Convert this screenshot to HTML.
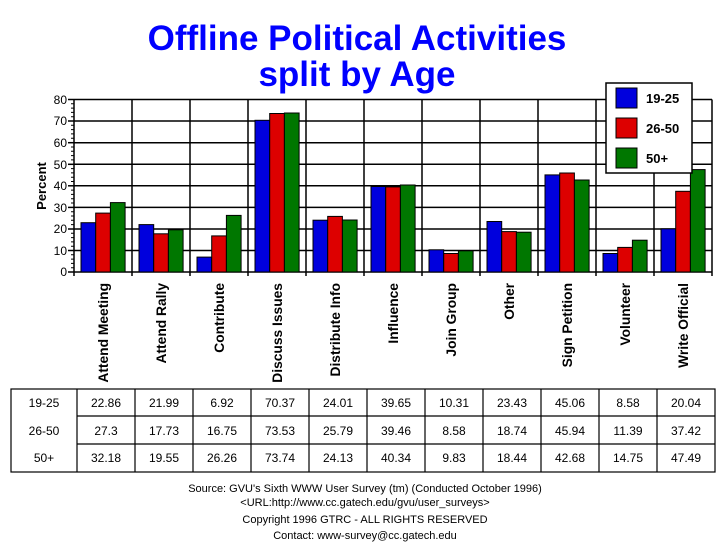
<!DOCTYPE html>
<html><head><meta charset="utf-8"><style>body{margin:0;background:#fff}svg{display:block}</style></head><body>
<svg width="728" height="552" xmlns="http://www.w3.org/2000/svg" font-family="Liberation Sans, sans-serif">
<text x="357" y="50" text-anchor="middle" font-size="35" font-weight="bold" fill="#0000ff">Offline Political Activities</text>
<text x="357" y="86" text-anchor="middle" font-size="35" font-weight="bold" fill="#0000ff">split by Age</text>
<g stroke="#000" stroke-width="1.5">
<line x1="74" y1="99.5" x2="712" y2="99.5"/><line x1="74" y1="121" x2="712" y2="121"/><line x1="74" y1="142.7" x2="712" y2="142.7"/><line x1="74" y1="164.3" x2="712" y2="164.3"/><line x1="74" y1="185.8" x2="712" y2="185.8"/><line x1="74" y1="207.4" x2="712" y2="207.4"/><line x1="74" y1="229" x2="712" y2="229"/><line x1="74" y1="250.5" x2="712" y2="250.5"/>
<line x1="132" y1="99.5" x2="132" y2="276"/><line x1="190" y1="99.5" x2="190" y2="276"/><line x1="248" y1="99.5" x2="248" y2="276"/><line x1="306" y1="99.5" x2="306" y2="276"/><line x1="364" y1="99.5" x2="364" y2="276"/><line x1="422" y1="99.5" x2="422" y2="276"/><line x1="480" y1="99.5" x2="480" y2="276"/><line x1="538" y1="99.5" x2="538" y2="276"/><line x1="596" y1="99.5" x2="596" y2="276"/><line x1="654" y1="99.5" x2="654" y2="276"/><line x1="712" y1="99.5" x2="712" y2="276"/>
<line x1="74" y1="99.5" x2="74" y2="276"/><line x1="68" y1="272" x2="712" y2="272"/>
<line x1="68" y1="99.5" x2="74" y2="99.5"/><line x1="68" y1="121" x2="74" y2="121"/><line x1="68" y1="142.7" x2="74" y2="142.7"/><line x1="68" y1="164.3" x2="74" y2="164.3"/><line x1="68" y1="185.8" x2="74" y2="185.8"/><line x1="68" y1="207.4" x2="74" y2="207.4"/><line x1="68" y1="229" x2="74" y2="229"/><line x1="68" y1="250.5" x2="74" y2="250.5"/>
</g>
<g stroke="#000" stroke-width="1">
<path d="M71 103.8H74M71 108.1H74M71 112.4H74M71 116.7H74M71 125.3H74M71 129.6H74M71 133.9H74M71 138.2H74M71 147H74M71 151.3H74M71 155.6H74M71 159.9H74M71 168.6H74M71 172.9H74M71 177.2H74M71 181.5H74M71 190.1H74M71 194.4H74M71 198.7H74M71 203H74M71 211.7H74M71 216H74M71 220.3H74M71 224.6H74M71 233.3H74M71 237.6H74M71 241.9H74M71 246.2H74M71 254.8H74M71 259.1H74M71 263.4H74M71 267.7H74"/>
</g>
<g font-size="12" text-anchor="end">
<text x="67" y="104">80</text><text x="67" y="125">70</text><text x="67" y="147">60</text><text x="67" y="169">50</text><text x="67" y="190">40</text><text x="67" y="212">30</text><text x="67" y="233">20</text><text x="67" y="255">10</text><text x="67" y="276">0</text>
</g>
<text transform="translate(46,186) rotate(-90)" text-anchor="middle" font-size="13" font-weight="bold">Percent</text>
<g stroke="#000" stroke-width="1">
<g fill="#0000dd">
<rect x="81" y="222.7" width="14.7" height="49.3"/><rect x="139" y="224.6" width="14.7" height="47.4"/><rect x="197" y="257.1" width="14.7" height="14.9"/><rect x="255" y="120.3" width="14.7" height="151.7"/><rect x="313" y="220.2" width="14.7" height="51.8"/><rect x="371" y="186.5" width="14.7" height="85.5"/><rect x="429" y="249.8" width="14.7" height="22.2"/><rect x="487" y="221.5" width="14.7" height="50.5"/><rect x="545" y="174.9" width="14.7" height="97.1"/><rect x="603" y="253.5" width="14.7" height="18.5"/><rect x="661" y="228.8" width="14.7" height="43.2"/>
</g>
<g fill="#dd0000">
<rect x="95.7" y="213.1" width="14.7" height="58.9"/><rect x="153.7" y="233.8" width="14.7" height="38.2"/><rect x="211.7" y="235.9" width="14.7" height="36.1"/><rect x="269.7" y="113.5" width="14.7" height="158.5"/><rect x="327.7" y="216.4" width="14.7" height="55.6"/><rect x="385.7" y="186.9" width="14.7" height="85.1"/><rect x="443.7" y="253.5" width="14.7" height="18.5"/><rect x="501.7" y="231.6" width="14.7" height="40.4"/><rect x="559.7" y="173" width="14.7" height="99"/><rect x="617.7" y="247.4" width="14.7" height="24.6"/><rect x="675.7" y="191.3" width="14.7" height="80.7"/>
</g>
<g fill="#007700">
<rect x="110.4" y="202.6" width="14.7" height="69.4"/><rect x="168.4" y="229.8" width="14.7" height="42.2"/><rect x="226.4" y="215.4" width="14.7" height="56.6"/><rect x="284.4" y="113" width="14.7" height="159"/><rect x="342.4" y="220" width="14.7" height="52"/><rect x="400.4" y="185" width="14.7" height="87"/><rect x="458.4" y="250.8" width="14.7" height="21.2"/><rect x="516.4" y="232.2" width="14.7" height="39.8"/><rect x="574.4" y="180" width="14.7" height="92"/><rect x="632.4" y="240.2" width="14.7" height="31.8"/><rect x="690.4" y="169.6" width="14.7" height="102.4"/>
</g>
</g>
<rect x="606" y="83" width="86" height="90" fill="#fff" stroke="#000" stroke-width="1.5"/>
<rect x="616" y="88" width="21" height="20" fill="#0000dd" stroke="#000"/>
<rect x="616" y="118" width="21" height="20" fill="#dd0000" stroke="#000"/>
<rect x="616" y="148" width="21" height="20" fill="#007700" stroke="#000"/>
<g font-size="13" font-weight="bold"><text x="646" y="103">19-25</text><text x="646" y="133">26-50</text><text x="646" y="163">50+</text></g>
<g font-size="13.8" font-weight="bold" text-anchor="end">
<text transform="translate(108,283) rotate(-90)">Attend Meeting</text>
<text transform="translate(166,283) rotate(-90)">Attend Rally</text>
<text transform="translate(224,283) rotate(-90)">Contribute</text>
<text transform="translate(282,283) rotate(-90)">Discuss Issues</text>
<text transform="translate(340,283) rotate(-90)">Distribute Info</text>
<text transform="translate(398,283) rotate(-90)">Influence</text>
<text transform="translate(456,283) rotate(-90)">Join Group</text>
<text transform="translate(514,283) rotate(-90)">Other</text>
<text transform="translate(572,283) rotate(-90)">Sign Petition</text>
<text transform="translate(630,283) rotate(-90)">Volunteer</text>
<text transform="translate(688,283) rotate(-90)">Write Official</text>
</g>
<g stroke="#000" stroke-width="1.2" fill="none">
<rect x="11" y="389" width="704" height="83"/>
<line x1="77" y1="416" x2="715" y2="416"/><line x1="77" y1="444" x2="715" y2="444"/>
<line x1="77" y1="389" x2="77" y2="472"/><line x1="135" y1="389" x2="135" y2="472"/><line x1="193" y1="389" x2="193" y2="472"/><line x1="251" y1="389" x2="251" y2="472"/><line x1="309" y1="389" x2="309" y2="472"/><line x1="367" y1="389" x2="367" y2="472"/><line x1="425" y1="389" x2="425" y2="472"/><line x1="483" y1="389" x2="483" y2="472"/><line x1="541" y1="389" x2="541" y2="472"/><line x1="599" y1="389" x2="599" y2="472"/><line x1="657" y1="389" x2="657" y2="472"/>
</g>
<g font-size="12" text-anchor="middle">
<text x="44" y="407">19-25</text><text x="44" y="435">26-50</text><text x="44" y="462">50+</text>
<text x="106" y="407">22.86</text><text x="164" y="407">21.99</text><text x="222" y="407">6.92</text><text x="280" y="407">70.37</text><text x="338" y="407">24.01</text><text x="396" y="407">39.65</text><text x="454" y="407">10.31</text><text x="512" y="407">23.43</text><text x="570" y="407">45.06</text><text x="628" y="407">8.58</text><text x="686" y="407">20.04</text>
<text x="106" y="435">27.3</text><text x="164" y="435">17.73</text><text x="222" y="435">16.75</text><text x="280" y="435">73.53</text><text x="338" y="435">25.79</text><text x="396" y="435">39.46</text><text x="454" y="435">8.58</text><text x="512" y="435">18.74</text><text x="570" y="435">45.94</text><text x="628" y="435">11.39</text><text x="686" y="435">37.42</text>
<text x="106" y="462">32.18</text><text x="164" y="462">19.55</text><text x="222" y="462">26.26</text><text x="280" y="462">73.74</text><text x="338" y="462">24.13</text><text x="396" y="462">40.34</text><text x="454" y="462">9.83</text><text x="512" y="462">18.44</text><text x="570" y="462">42.68</text><text x="628" y="462">14.75</text><text x="686" y="462">47.49</text>
</g>
<g font-size="11" text-anchor="middle">
<text x="365" y="492">Source: GVU's Sixth WWW User Survey (tm) (Conducted October 1996)</text>
<text x="365" y="506">&lt;URL:http://www.cc.gatech.edu/gvu/user_surveys&gt;</text>
<text x="365" y="523">Copyright 1996 GTRC - ALL RIGHTS RESERVED</text>
<text x="365" y="539">Contact: www-survey@cc.gatech.edu</text>
</g>
</svg>
</body></html>
